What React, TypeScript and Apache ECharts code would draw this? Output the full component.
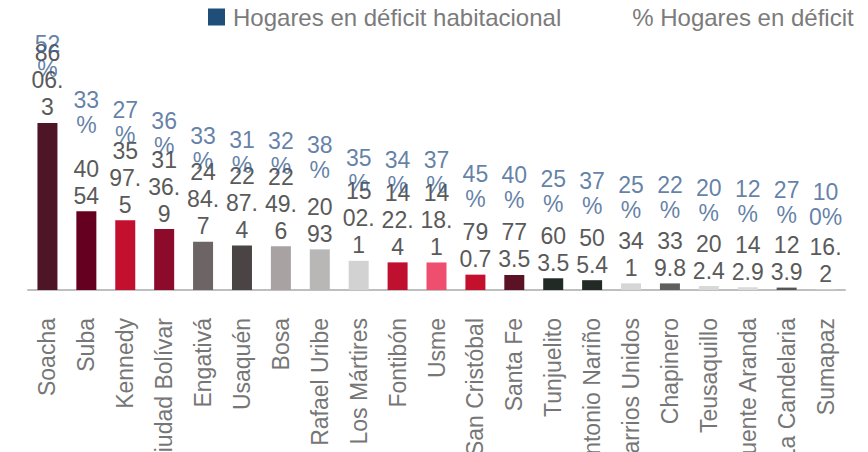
import React, { useEffect, useRef } from "react";
import * as echarts from "echarts";

const categories = [
  "Soacha", "Suba", "Kennedy", "Ciudad Bolívar", "Engativá", "Usaquén", "Bosa",
  "Rafael Uribe", "Los Mártires", "Fontibón", "Usme", "San Cristóbal", "Santa Fe",
  "Tunjuelito", "Antonio Nariño", "Barrios Unidos", "Chapinero", "Teusaquillo",
  "Puente Aranda", "La Candelaria", "Sumapaz",
];

const hogaresDeficit = [
  8606.3, 4054, 3597.5, 3136.9, 2484.7, 2287.4, 2249.6, 2093, 1502.1, 1422.4,
  1418.1, 790.7, 773.5, 603.5, 505.4, 341, 339.8, 202.4, 142.9, 123.9, 16.2,
];

const pctDeficit = [
  52, 33, 27, 36, 33, 31, 32, 38, 35, 34, 37, 45, 40, 25, 37, 25, 22, 20, 12, 27, 100,
];

const barColors = [
  "#4E1527", "#650020", "#C3102F", "#8C0B2B", "#6C6465", "#4B4445", "#A8A2A2",
  "#B9B6B6", "#D3D2D2", "#BF1030", "#EF4F6E", "#C5102D", "#5C1225", "#212A24",
  "#232A25", "#D6D6D6", "#5F5F5F", "#D8D8D8", "#DADADA", "#555555", "#E2E2E2",
];

const SERIES_BAR = "Hogares en déficit habitacional";
const SERIES_PCT = "% Hogares en déficit";
const FONT = "'Liberation Sans', Arial, sans-serif";

const Y_MAX = 10300;
const GRID_TOP = 90;
const GRID_BOTTOM_Y = 290;
const PCT_DISTANCE = 60;
const PCT_SLOPE = 0.18;
const PCT_BLOCK = 50;
const PCT_MIN_TOP = 31;

// emulate the narrow label box wrapping: at most two wide glyphs per line
function wrapNarrow(s: string): string {
  const lines: string[] = [];
  let cur = "";
  let wide = 0;
  for (const ch of s) {
    const isWide = ch !== ".";
    if (isWide && wide === 2) {
      lines.push(cur);
      cur = "";
      wide = 0;
    }
    cur += ch;
    if (isWide) wide += 1;
  }
  if (cur) lines.push(cur);
  return lines.join("\n");
}

export default function App() {
  const ref = useRef<HTMLDivElement>(null);

  useEffect(() => {
    if (!ref.current) return;
    const chart = echarts.init(ref.current, null, { renderer: "svg" });
    const plotH = GRID_BOTTOM_Y - GRID_TOP;
    const option: any = {
      animation: false,
      textStyle: { fontFamily: FONT },
      legend: {
        left: 203,
        top: 0,
        itemWidth: 17,
        itemHeight: 17,
        itemGap: 46,
        textStyle: {
          fontSize: 24,
          color: "#7B7B7B",
          fontFamily: FONT,
          padding: [0, 0, 0, 3],
        },
        data: [
          { name: SERIES_BAR, icon: "rect", itemStyle: { color: "#1F4E79" } },
          { name: SERIES_PCT, icon: "rect", itemStyle: { color: "rgba(0,0,0,0)" } },
        ],
      },
      grid: {
        left: 28,
        right: 23,
        top: GRID_TOP,
        bottom: 452 - GRID_BOTTOM_Y,
        containLabel: false,
        outerBoundsMode: "none",
      },
      xAxis: {
        type: "category",
        data: categories,
        axisLine: { lineStyle: { color: "#BFBFBF", width: 2 } },
        axisTick: { show: false },
        axisLabel: {
          interval: 0,
          rotate: 90,
          margin: 28,
          fontSize: 23,
          color: "#767676",
          fontFamily: FONT,
        },
      },
      yAxis: {
        type: "value",
        min: 0,
        max: Y_MAX,
        show: false,
        splitLine: { show: false },
      },
      series: [
        {
          name: SERIES_BAR,
          type: "bar",
          barWidth: 20,
          itemStyle: { color: "#1F4E79" },
          data: hogaresDeficit.map((v, i) => ({
            value: v,
            itemStyle: { color: barColors[i] },
          })),
          label: {
            show: true,
            position: "top",
            distance: 2,
            fontSize: 23,
            lineHeight: 27,
            color: "#5A5A5A",
            fontFamily: FONT,
            formatter: (p: any) => wrapNarrow(String(p.value)),
          },
        },
        {
          name: SERIES_PCT,
          type: "scatter",
          symbolSize: 0,
          itemStyle: { color: "rgba(0,0,0,0)" },
          data: hogaresDeficit.map((v) => {
            const h = (v / Y_MAX) * plotH;
            const barTop = GRID_BOTTOM_Y - h;
            let distance = PCT_DISTANCE + PCT_SLOPE * h;
            if (barTop - distance - PCT_BLOCK < PCT_MIN_TOP) {
              distance = barTop - PCT_MIN_TOP - PCT_BLOCK;
            }
            return { value: v, label: { distance } };
          }),
          label: {
            show: true,
            position: "top",
            fontSize: 23,
            lineHeight: 25,
            color: "#3B6190",
            fontFamily: FONT,
            formatter: (p: any) => wrapNarrow(`${pctDeficit[p.dataIndex]}%`),
          },
        },
      ],
    };
    chart.setOption(option);
    return () => chart.dispose();
  }, []);

  return (
    <div
      ref={ref}
      style={{ position: "absolute", left: 0, top: 0, width: 868, height: 452 }}
    />
  );
}
